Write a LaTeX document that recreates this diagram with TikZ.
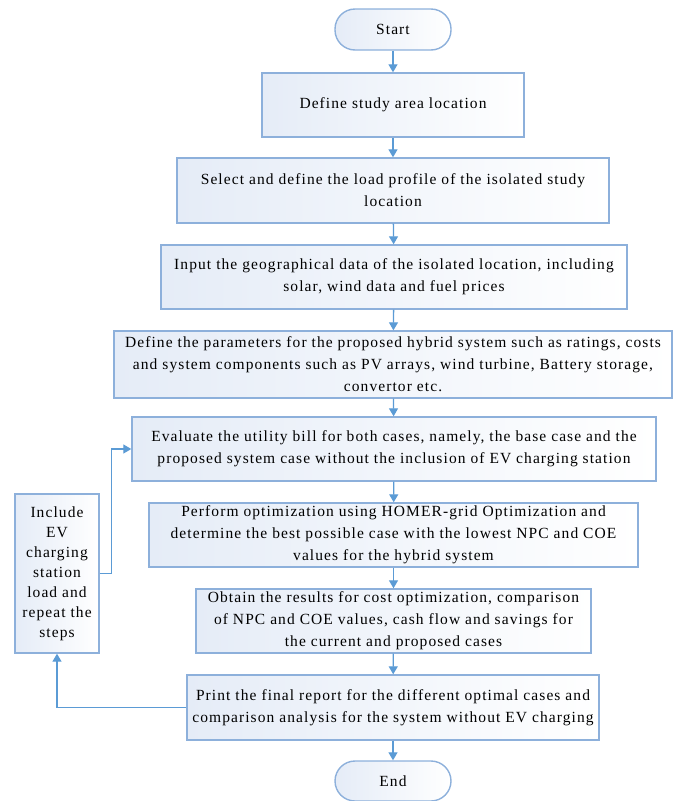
\documentclass[tikz,border=0pt]{standalone}
\usepackage{fontspec}
\setmainfont{Liberation Serif}[LetterSpace=7]
\usetikzlibrary{arrows.meta}
\definecolor{bordc}{RGB}{141,176,219}
\definecolor{arrc}{RGB}{91,155,213}
\definecolor{fillc}{RGB}{229,236,247}
\tikzset{
  x=1pt, y=-1pt,
  box/.style={draw=bordc, line width=1.4pt, left color=fillc, right color=white,
    align=center, inner sep=2pt, font=\fontsize{15.5}{22}\selectfont, text=black},
  term/.style={box, rounded corners=20pt},
  arr/.style={draw=arrc, line width=1.3pt, -{Triangle[width=9pt,length=8pt]}}
}
\begin{document}
\begin{tikzpicture}
\useasboundingbox (0,0) rectangle (678,801);
\node[term, minimum width=116pt, minimum height=41pt] (start) at (393,29.5) {Start};
\node[box, minimum width=262pt, minimum height=64pt] (b1) at (393,105) {Define study area location};
\node[box, minimum width=432pt, minimum height=65pt] (b2) at (393,190.5) {Select and define the load profile of the isolated study\\location};
\node[box, minimum width=466pt, minimum height=64pt] (b3) at (394,277) {Input the geographical data of the isolated location, including\\solar, wind data and fuel prices};
\node[box, minimum width=558pt, minimum height=67pt] (b4) at (393,364.5) {Define the parameters for the proposed hybrid system such as ratings, costs\\and system components such as PV arrays, wind turbine, Battery storage,\\convertor etc.};
\node[box, minimum width=524pt, minimum height=64pt] (b5) at (394,449) {Evaluate the utility bill for both cases, namely, the base case and the\\proposed system case without the inclusion of EV charging station};
\node[box, minimum width=489pt, minimum height=64pt] (b6) at (393.5,535) {Perform optimization using HOMER-grid Optimization and\\determine the best possible case with the lowest NPC and COE\\values for the hybrid system};
\node[box, minimum width=395pt, minimum height=64pt] (b7) at (393.5,621) {Obtain the results for cost optimization, comparison\\of NPC and COE values, cash flow and savings for\\the current and proposed cases};
\node[box, minimum width=412pt, minimum height=65pt] (b8) at (393,707.5) {Print the final report for the different optimal cases and\\comparison analysis for the system without EV charging};
\node[term, minimum width=116pt, minimum height=40pt] (end) at (393,781) {End};
\node[box, minimum width=84pt, minimum height=159pt, font=\fontsize{15.5}{20}\selectfont] (side) at (57,573.5) {Include\\EV\\charging\\station\\load and\\repeat the\\steps};
\draw[arr] (start) -- (b1);
\draw[arr] (b1) -- (b2);
\draw[arr] (b2) -- (b3);
\draw[arr] (b3) -- (b4);
\draw[arr] (b4) -- (b5);
\draw[arr] (b5) -- (b6);
\draw[arr] (b6) -- (b7);
\draw[arr] (b7) -- (b8);
\draw[arr] (b8) -- (end);
\draw[arr] (b8.west) -| (side.south);
\draw[arr] (side.east) -- ++(12,0) |- (b5.west);
\end{tikzpicture}
\end{document}
